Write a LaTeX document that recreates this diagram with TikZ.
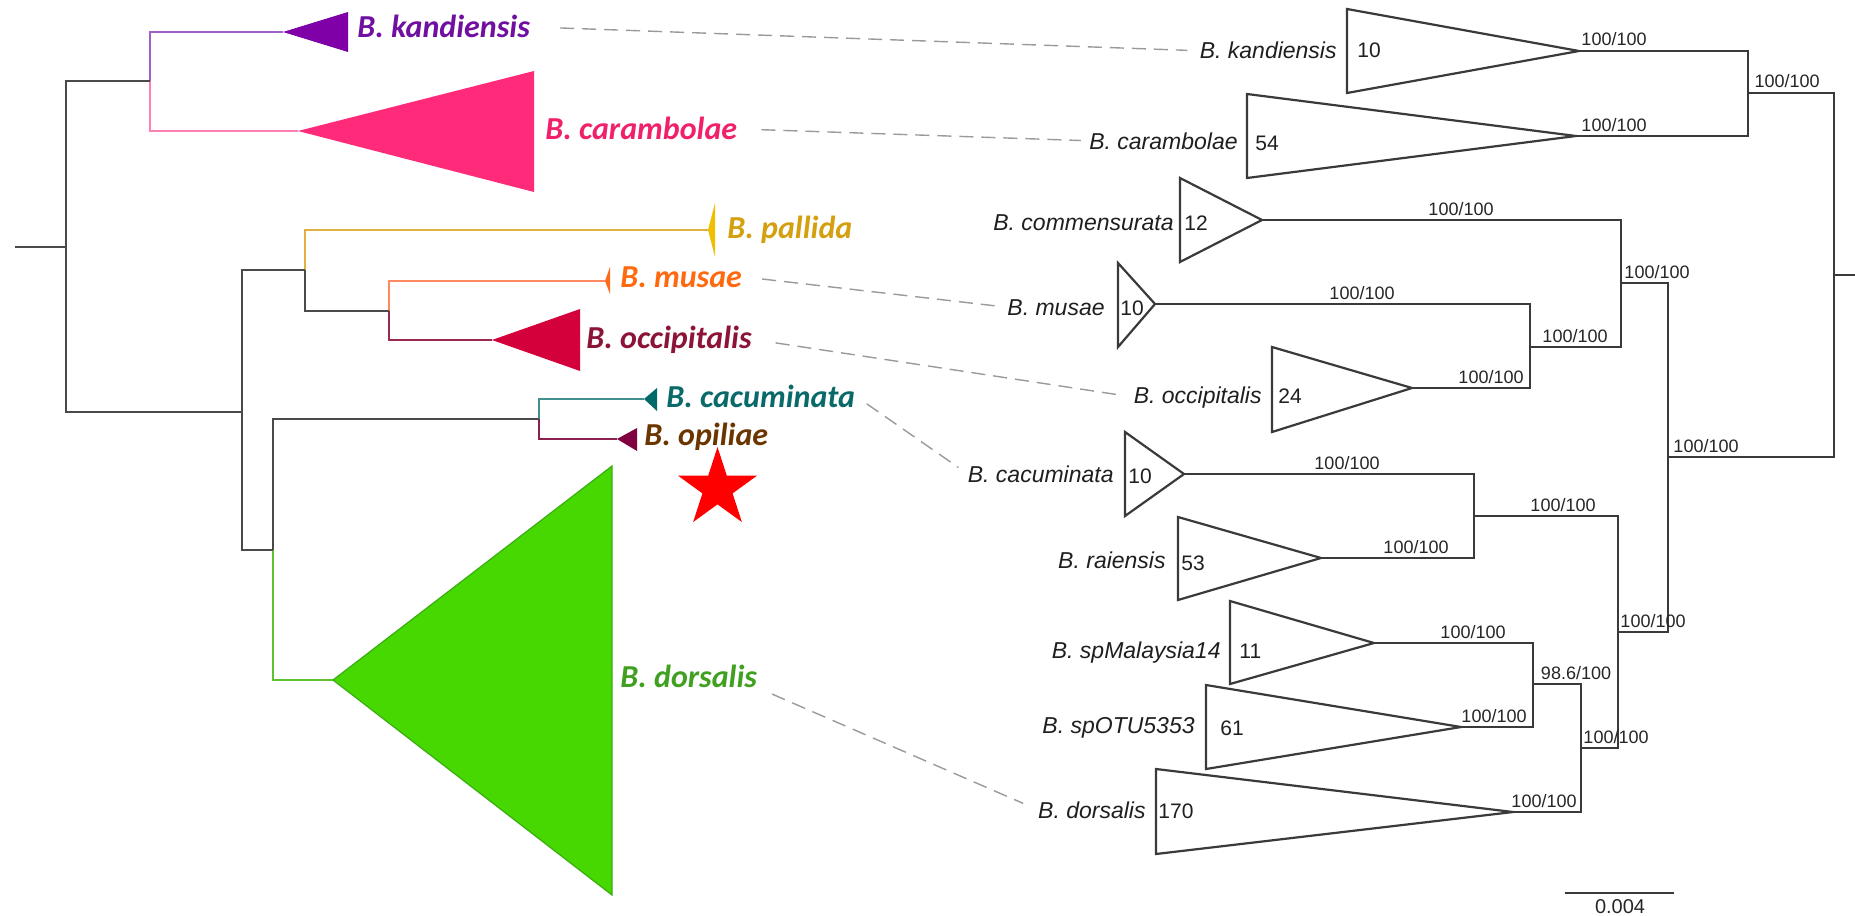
\documentclass[tikz,border=0pt]{standalone}
\usepackage{fontspec}
\newfontfamily\lfont{Carlito}
\newfontfamily\rfont{Liberation Sans}
\usetikzlibrary{calc,shapes.geometric}
\definecolor{dkline}{HTML}{4A4A4A}
\definecolor{rline}{HTML}{3A3A3A}
\definecolor{kandF}{HTML}{8000A8}\definecolor{kandT}{HTML}{7010A0}\definecolor{kandB}{HTML}{A060C8}
\definecolor{caraF}{HTML}{FF2A7A}\definecolor{caraT}{HTML}{F0206A}\definecolor{caraB}{HTML}{FF80B4}
\definecolor{palF}{HTML}{F0C000}\definecolor{palT}{HTML}{D4A010}\definecolor{palB}{HTML}{E0B040}
\definecolor{musF}{HTML}{FF6A1A}\definecolor{musT}{HTML}{FF6A10}\definecolor{musB}{HTML}{FF8A60}
\definecolor{occF}{HTML}{D4003C}\definecolor{occT}{HTML}{8C1438}\definecolor{occB}{HTML}{9A2A50}
\definecolor{cacF}{HTML}{006A6A}\definecolor{cacT}{HTML}{0A6A6A}\definecolor{cacB}{HTML}{40908F}
\definecolor{opiF}{HTML}{800040}\definecolor{opiT}{HTML}{6B3500}\definecolor{opiB}{HTML}{8A2050}
\definecolor{dorF}{HTML}{46D800}\definecolor{dorE}{HTML}{3AAE10}\definecolor{dorT}{HTML}{40A020}\definecolor{dorB}{HTML}{60C030}
\definecolor{linkC}{HTML}{9A9A9A}
\begin{document}
\begin{tikzpicture}[x=0.5pt,y=-0.5pt,
  dk/.style={draw=dkline,line width=1.25pt},
  cb/.style={line width=1pt},
  rt/.style={draw=rline,line width=1.1pt},
  tri/.style={draw=rline,line width=1.1pt,line join=miter},
  llab/.style={font=\lfont\bfseries\itshape\fontsize{16}{18}\selectfont,inner sep=0pt,anchor=base west},
  rlab/.style={font=\rfont\itshape\fontsize{11.5}{13}\selectfont,text=black!88,inner sep=0pt,anchor=base east},
  cnt/.style={font=\rfont\fontsize{10.5}{12}\selectfont,text=black!88,inner sep=0pt,anchor=base west},
  bs/.style={font=\rfont\fontsize{9}{10}\selectfont,text=black!85,inner sep=0pt,anchor=base},
  link/.style={draw=linkC,line width=0.7pt,dash pattern=on 7pt off 4pt}
]
\fill[white] (0,0) rectangle (1855,915);
\useasboundingbox (0,0) rectangle (1855,915);

% ---------------- left tree ----------------
\coordinate (L0) at (15,247);
\coordinate (R) at (66,247);
\coordinate (A) at (150,81);
\coordinate (B) at (242,412);
\coordinate (C) at (305,270);
\coordinate (D) at (389,311);
\coordinate (E) at (273,550);
\coordinate (F) at (539,419);
\coordinate (kTip) at (283,32);
\coordinate (cTip) at (298,131);
\coordinate (pTip) at (708,230);
\coordinate (mTip) at (605,281);
\coordinate (oTip) at (492,340);
\coordinate (caTip) at (644,399);
\coordinate (opTip) at (617,439);
\coordinate (dTip) at (333,680);

\draw[cb,draw=kandB] (A) |- (kTip);
\draw[cb,draw=caraB] (A) |- (cTip);
\draw[cb,draw=palB] (C) |- (pTip);
\draw[cb,draw=musB] (D) |- (mTip);
\draw[cb,draw=occB] (D) |- (oTip);
\draw[cb,draw=dorB] (E) |- (dTip);
\draw[cb,draw=cacB] (F) |- (caTip);
\draw[cb,draw=opiB] (F) |- (opTip);
\draw[dk] (L0) -- (R);
\draw[dk] (R) |- (A);
\draw[dk] (R) |- (B);
\draw[dk] (B) |- (C);
\draw[dk] (B) |- (E);
\draw[dk] (C) |- (D);
\draw[dk] (E) |- (F);

\fill[kandF] (kTip) -- (348,12) -- (348,52) -- cycle;
\fill[caraF] (cTip) -- (534,71) -- (534,192) -- cycle;
\fill[palF] (pTip) -- (715,203) -- (715,257) -- cycle;
\fill[musF] (mTip) -- (610,267) -- (610,294) -- cycle;
\fill[occF] (oTip) -- (580,309) -- (580,371) -- cycle;
\fill[cacF] (caTip) -- (657,388) -- (657,411) -- cycle;
\fill[opiF] (opTip) -- (637,428) -- (637,451) -- cycle;
\filldraw[fill=dorF,draw=dorE,line width=0.6pt] (dTip) -- (612,466) -- (612,895) -- cycle;

\node[llab,text=kandT] (lk) at (357,38) {B. kandiensis};
\node[llab,text=caraT] (lc) at (545,140) {B. carambolae};
\node[llab,text=palT] (lp) at (727,238) {B. pallida};
\node[llab,text=musT] (lm) at (620,287) {B. musae};
\node[llab,text=occT] (lo) at (586,348) {B. occipitalis};
\node[llab,text=cacT] (lca) at (666,407) {B. cacuminata};
\node[llab,text=opiT] (lop) at (644,445) {B. opiliae};
\node[llab,text=dorT] (ld) at (620,687) {B. dorsalis};

\node[star,star points=5,star point ratio=2.618,fill=red,inner sep=0pt,minimum size=41.5pt] (st) at (717.5,488.5) {};

% ---------------- right tree ----------------
\coordinate (RR) at (1834,275);
\coordinate (RE) at (1855,275);
\coordinate (N1) at (1748,93);
\coordinate (N2) at (1621,283);
\coordinate (N3) at (1530,347);
\coordinate (N4) at (1668,457);
\coordinate (N5) at (1474,516);
\coordinate (N6) at (1618,632);
\coordinate (N7) at (1533,684);
\coordinate (N8) at (1581,748);
\coordinate (tK) at (1579,51);
\coordinate (tC) at (1576,136);
\coordinate (tCm) at (1262,220);
\coordinate (tM) at (1155,304);
\coordinate (tO) at (1412,388);
\coordinate (tCa) at (1184,474);
\coordinate (tR) at (1321,558);
\coordinate (tSm) at (1374,643);
\coordinate (tSo) at (1461,727);
\coordinate (tD) at (1513,812);

\draw[rt] (RR) -- (RE);
\draw[rt] (RR) |- (N1);
\draw[rt] (RR) |- (N4);
\draw[rt] (N1) |- (tK);
\draw[rt] (N1) |- (tC);
\draw[rt] (N4) |- (N2);
\draw[rt] (N4) |- (N6);
\draw[rt] (N2) |- (tCm);
\draw[rt] (N2) |- (N3);
\draw[rt] (N3) |- (tM);
\draw[rt] (N3) |- (tO);
\draw[rt] (N6) |- (N5);
\draw[rt] (N6) |- (N8);
\draw[rt] (N5) |- (tCa);
\draw[rt] (N5) |- (tR);
\draw[rt] (N8) |- (N7);
\draw[rt] (N8) |- (tD);
\draw[rt] (N7) |- (tSm);
\draw[rt] (N7) |- (tSo);

\draw[tri] (tK) -- (1347,9) -- (1347,93) -- cycle;
\draw[tri] (tC) -- (1247,94) -- (1247,178) -- cycle;
\draw[tri] (tCm) -- (1180,178) -- (1180,262) -- cycle;
\draw[tri] (tM) -- (1118,263) -- (1118,347) -- cycle;
\draw[tri] (tO) -- (1272,347) -- (1272,432) -- cycle;
\draw[tri] (tCa) -- (1125,432) -- (1125,516) -- cycle;
\draw[tri] (tR) -- (1178,517) -- (1178,600) -- cycle;
\draw[tri] (tSm) -- (1230,601) -- (1230,684) -- cycle;
\draw[tri] (tSo) -- (1206,685) -- (1206,769) -- cycle;
\draw[tri] (tD) -- (1156,769) -- (1156,854) -- cycle;

\node[rlab] (rk) at (1337,59) {B. kandiensis};
\node[rlab] (rc) at (1238,149) {B. carambolae};
\node[rlab] (rcm) at (1174,230) {B. commensurata};
\node[rlab] (rm) at (1105,315) {B. musae};
\node[rlab] (ro) at (1262,403) {B. occipitalis};
\node[rlab] (rca) at (1114,482) {B. cacuminata};
\node[rlab] (rr) at (1166,568) {B. raiensis};
\node[rlab] (rsm) at (1221,658) {B. spMalaysia14};
\node[rlab] (rso) at (1195,733) {B. spOTU5353};
\node[rlab] (rd) at (1146,818) {B. dorsalis};

\node[cnt] (nk) at (1357,58) {10};
\node[cnt] (nc) at (1255,150) {54};
\node[cnt] (ncm) at (1184,230) {12};
\node[cnt] (nm) at (1120,315) {10};
\node[cnt] (no) at (1278,403) {24};
\node[cnt] (nca) at (1128,483) {10};
\node[cnt] (nr) at (1181,570) {53};
\node[cnt] (nsm) at (1239,658) {11};
\node[cnt] (nso) at (1220,735) {61};
\node[cnt] (nd) at (1158,818) {170};

\node[bs] (b1) at (1614,46) {100/100};
\node[bs] (b2) at (1614,131) {100/100};
\node[bs] (b3) at (1787,88) {100/100};
\node[bs] (b4) at (1461,215) {100/100};
\node[bs] (b5) at (1657,278) {100/100};
\node[bs] (b6) at (1362,299) {100/100};
\node[bs] (b7) at (1575,342) {100/100};
\node[bs] (b8) at (1491,383) {100/100};
\node[bs] (b9) at (1706,452) {100/100};
\node[bs] (b10) at (1347,469) {100/100};
\node[bs] (b11) at (1563,511) {100/100};
\node[bs] (b12) at (1416,553) {100/100};
\node[bs] (b13) at (1653,627) {100/100};
\node[bs] (b14) at (1473,638) {100/100};
\node[bs] (b15) at (1576,679) {98.6/100};
\node[bs] (b16) at (1494,722) {100/100};
\node[bs] (b17) at (1616,743) {100/100};
\node[bs] (b18) at (1544,807) {100/100};

% scale bar
\coordinate (s1) at (1565,893);
\coordinate (s2) at (1674,893);
\draw[rt] (s1) -- (s2);
\node[bs,font=\rfont\fontsize{10}{11}\selectfont] (sc) at (1620,913) {0.004};

% ---------------- links ----------------
\draw[link,shorten <=15pt,shorten >=6pt] (lk.east) -- (rk.west);
\draw[link,shorten <=12pt,shorten >=4pt] (lc.east) -- (rc.west);
\draw[link,shorten <=10pt,shorten >=4.5pt] (lm.east) -- (rm.west);
\draw[link,shorten <=12pt,shorten >=6pt] (lo.east) -- (ro.west);
\draw[link,shorten <=7pt,shorten >=5.5pt] (lca.east) -- (rca.west);
\draw[link,shorten <=8pt,shorten >=8pt] (ld.south east) -- (rd.west);
\end{tikzpicture}
\end{document}
